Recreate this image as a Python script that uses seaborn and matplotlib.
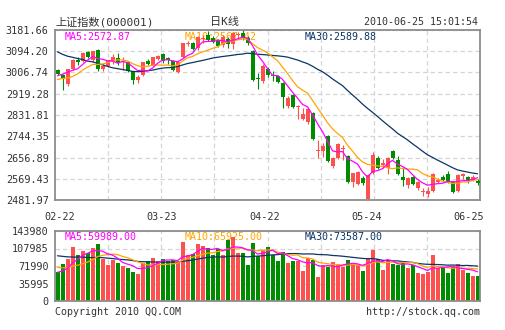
import numpy as np
import pandas as pd
import matplotlib
matplotlib.use("Agg")
import matplotlib.pyplot as plt
import matplotlib.transforms as mtransforms
import seaborn as sns

# ---------------- data ----------------
tick_labels = ["02-22", "03-23", "04-22", "05-24", "06-25"]
price_ticks = [2481.97, 2569.43, 2656.89, 2744.35, 2831.81, 2919.28, 3006.74, 3094.20, 3181.66]
vol_ticks = [0, 35995, 71990, 107985, 143980]

# closes of the 29 sessions before the first candle (needed for the moving averages)
prior_closes = [3282.18, 3254.22, 3192.78, 3195.99, 3212.75, 3273.97, 3172.66, 3215.55, 3224.15,
                3237.10, 3246.87, 3151.83, 3158.86, 3128.59, 3094.41, 3019.39, 2986.61, 2993.00,
                2989.29, 2941.36, 2937.00, 3005.00, 2995.00, 2939.40, 2935.18, 2948.00, 2982.00,
                3018.00, 3018.13]
prior_volumes = [110000, 118000, 122000, 100000, 98000, 124000, 116000, 102000, 104000, 106000,
                 110000, 114000, 96000, 92000, 100000, 108000, 98000, 88000, 94000, 100000,
                 84000, 80000, 82000, 76000, 73000, 62000, 58000, 55000, 60000]

opens = [3018, 2997, 2961, 3021, 3059, 3053, 3091, 3057, 3099, 3022,
         3032, 3049, 3066, 3049, 3049, 3011, 2977, 2998, 3053, 3039,
         3064, 3082, 3066, 3053, 3010, 3070, 3124, 3128, 3107, 3143,
         3161, 3150, 3137, 3118, 3145, 3124, 3160, 3170, 3149, 3096,
         2983, 2970, 3022, 2998, 2991, 2963, 2868, 2915, 2866, 2815,
         2802, 2840, 2682, 2685, 2745, 2621, 2655, 2690, 2664, 2555,
         2549, 2573, 2487, 2593, 2655, 2628, 2614, 2682, 2648, 2577,
         2545, 2575, 2531, 2513, 2508, 2520, 2556, 2575, 2590, 2556,
         2518, 2579, 2577, 2566, 2562]
highs = [3020, 3000, 3023, 3062, 3069, 3090, 3094, 3096, 3104, 3044,
         3060, 3081, 3087, 3069, 3052, 3014, 2995, 3052, 3062, 3072,
         3080, 3086, 3072, 3058, 3055, 3130, 3136, 3133, 3155, 3160,
         3178, 3158, 3145, 3160, 3152, 3175, 3175, 3181.66, 3155, 3100,
         3005, 3040, 3030, 3014, 2996, 2966, 2908, 2920, 2874, 2860,
         2860, 2845, 2730, 2718, 2750, 2660, 2716, 2710, 2668, 2595,
         2600, 2580, 2590, 2680, 2662, 2650, 2660, 2689, 2664, 2617,
         2578, 2580, 2560, 2530, 2535, 2592, 2572, 2585, 2600, 2560,
         2590, 2595, 2582, 2585, 2570]
lows = [2996, 2936, 2952, 3015, 3039, 3048, 3066, 3052, 3014, 3014,
        3028, 3043, 3039, 3018, 3008, 2960, 2962, 2994, 3036, 3035,
        3058, 3045, 3043, 3012, 3005, 3066, 3116, 3098, 3100, 3130,
        3135, 3128, 3110, 3112, 3107, 3105, 3145, 3142, 3120, 2972,
        2939, 2965, 2990, 2973, 2962, 2860, 2862, 2860, 2817, 2810,
        2795, 2730, 2655, 2660, 2638, 2615, 2650, 2648, 2553, 2535,
        2545, 2545, 2481.97, 2590, 2610, 2615, 2588, 2650, 2585, 2540,
        2531, 2545, 2525, 2497, 2493, 2515, 2550, 2558, 2552, 2510,
        2515, 2570, 2550, 2560, 2545]
closes = [3001, 2980, 3021, 3059, 3049, 3087, 3071, 3094, 3022, 3032,
          3057, 3069, 3046, 3055, 3011, 2975, 2988, 3049, 3042, 3069,
          3076, 3053, 3058, 3018, 3051, 3128, 3129, 3103, 3152, 3149,
          3140, 3134, 3117, 3152, 3124, 3168, 3166, 3150, 3128, 2975,
          2979, 3033, 2998, 2991, 2966, 2905, 2900, 2866, 2870, 2836,
          2856, 2734, 2686, 2703, 2643, 2655, 2712, 2694, 2556, 2592,
          2596, 2552, 2586, 2668, 2614, 2634, 2655, 2655, 2590, 2566,
          2573, 2549, 2555, 2520, 2518, 2588, 2565, 2563, 2556, 2515,
          2586, 2590, 2563, 2578, 2552]
volumes = [60000, 76000, 86000, 111000, 94000, 102000, 98000, 109000, 117000, 86000,
           75000, 85000, 78000, 73000, 68000, 60000, 55000, 78000, 82000, 89000,
           82000, 86000, 82000, 84000, 81000, 121000, 94000, 97000, 117000, 114000,
           108000, 95000, 107000, 95000, 125000, 131000, 98000, 98000, 75000, 119000,
           93000, 105000, 112000, 95000, 82000, 100000, 78000, 82000, 82000, 61000,
           88000, 84000, 50000, 74000, 69000, 81000, 77000, 69000, 84000, 77000,
           75000, 62000, 88000, 105000, 86000, 64000, 82000, 77000, 74000, 81000,
           67000, 74000, 57000, 56000, 60000, 95000, 68000, 68000, 58000, 70000,
           76000, 63000, 58000, 52000, 51000]

ma_labels_price = ["MA5:2572.87", "MA10:2567.42", "MA30:2589.88"]
ma_labels_vol = ["MA5:59989.00", "MA10:65925.00", "MA30:73587.00"]

# ---------------- style ----------------
RED = "#FF5050"
GREEN = "#008C00"
C_MA5 = "#FF00FF"
C_MA10 = "#FFA500"
C_MA30 = "#0B3566"
GRID = "#D4D4D4"
FRAME = "#8C8C8C"
TXT = "#333333"

sns.set_style("white")
plt.rcParams['font.family'] = ['DejaVu Sans Mono', 'Noto Sans CJK SC']

W, H = 505, 330
fig = plt.figure(figsize=(W / 100, H / 100), dpi=100)
fig.patch.set_facecolor("white")


def px_axes(l, t, r, b):
    return fig.add_axes([l / W, 1 - b / H, (r - l) / W, (b - t) / H])


ax = px_axes(55, 30, 480, 200)
axv = px_axes(55, 231, 480, 301)

n = len(closes)
idx = np.arange(n)
o = np.array(opens, float); h = np.array(highs, float)
l = np.array(lows, float); c = np.array(closes, float)
up = c >= o
cols = np.where(up, RED, GREEN)

df = pd.DataFrame({"x": idx, "open": o, "high": h, "low": l, "close": c,
                   "volume": volumes, "dir": np.where(up, "up", "down")})

all_close = pd.Series(list(prior_closes) + list(closes), dtype=float)
all_vol = pd.Series(list(prior_volumes) + list(volumes), dtype=float)
k = len(prior_closes)
for w in (5, 10, 30):
    df[f"ma{w}"] = all_close.rolling(w).mean().to_numpy()[k:]
    df[f"vma{w}"] = all_vol.rolling(w).mean().to_numpy()[k:]

# ---------------- price panel ----------------
ax.vlines(df["x"], df["low"], df["high"], colors=cols, linewidth=0.8, zorder=2)
body = np.maximum(np.abs(c - o), 2.5)
ax.bar(df["x"], body, bottom=np.minimum(o, c), width=0.8, color=cols, linewidth=0, zorder=3)

for col, colr in (("ma30", C_MA30), ("ma10", C_MA10), ("ma5", C_MA5)):
    sns.lineplot(data=df, x="x", y=col, ax=ax, color=colr, linewidth=0.9, zorder=4)

# ---------------- volume panel ----------------
sns.barplot(data=df, x="x", y="volume", hue="dir", palette={"up": RED, "down": GREEN},
            native_scale=True, width=0.8, dodge=False, legend=False, saturation=1,
            linewidth=0, ax=axv, zorder=2)
for col, colr in (("vma30", C_MA30), ("vma10", C_MA10), ("vma5", C_MA5)):
    sns.lineplot(data=df, x="x", y=col, ax=axv, color=colr, linewidth=0.9, zorder=4)

grid_x = np.arange(1, 8) * n / 8 - 0.5
for a, ticks, fmt in ((ax, price_ticks, "{:.2f}"), (axv, vol_ticks, "{:d}")):
    a.set_xlim(-0.5, n - 0.5)
    a.set_ylim(ticks[0], ticks[-1])
    a.set_yticks(ticks)
    a.set_yticklabels([fmt.format(t) for t in ticks])
    a.set_xticks(grid_x)
    a.set_xticklabels([])
    a.set_xlabel(""); a.set_ylabel("")
    a.set_axisbelow(True)
    a.grid(True, color=GRID, linestyle=(0, (3.5, 2.5)), linewidth=0.9)
    a.tick_params(length=0, pad=4.5, labelsize=7.3, labelcolor=TXT)
    for s in a.spines.values():
        s.set_color(FRAME)
        s.set_linewidth(1.3)
        s.set_visible(True)
    a.set_facecolor("white")

# x tick labels (dates)
label_pos = np.linspace(0.5, 82.2, len(tick_labels))
trans = mtransforms.blended_transform_factory(ax.transData, ax.transAxes)
for p, t in zip(label_pos, tick_labels):
    ax.text(p, -17.5 / 170, t, transform=trans, ha="center", va="center",
            fontsize=7.3, color=TXT)

# MA labels
for xpx, t, colr in zip((65, 185, 305), ma_labels_price, (C_MA5, C_MA10, C_MA30)):
    ax.text((xpx - 55) / 425, (200 - 36.5) / 170, t, transform=ax.transAxes,
            ha="left", va="center", fontsize=7.2, color=colr, zorder=1)
for xpx, t, colr in zip((65, 185, 305), ma_labels_vol, (C_MA5, C_MA10, C_MA30)):
    axv.text((xpx - 55) / 425, (301 - 237) / 70, t, transform=axv.transAxes,
             ha="left", va="center", fontsize=7.2, color=colr, zorder=1)

# header / footer
fig.text(55 / W, 1 - 22 / H, "上证指数(000001)", ha="left", va="center",
         fontsize=8, color=TXT)
fig.text(224.5 / W, 1 - 22 / H, "日K线", ha="center", va="center",
         fontsize=8, color=TXT)
fig.text(478 / W, 1 - 22 / H, "2010-06-25 15:01:54", ha="right", va="center",
         fontsize=7.2, color=TXT)
fig.text(55 / W, 1 - 312 / H, "Copyright 2010 QQ.COM", ha="left", va="center",
         fontsize=7.2, color=TXT)
fig.text(480 / W, 1 - 312 / H, "http://stock.qq.com", ha="right", va="center",
         fontsize=7.2, color=TXT)

fig.savefig("out.png", dpi=100, facecolor="white")
